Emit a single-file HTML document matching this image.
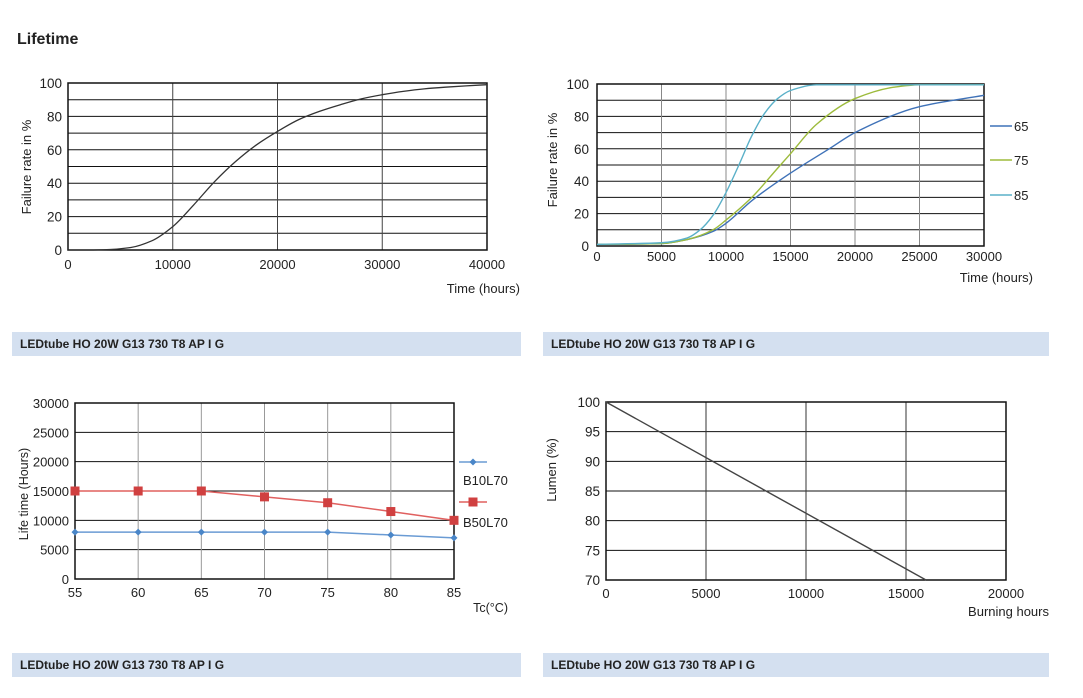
<!DOCTYPE html>
<html><head><meta charset="utf-8"><style>
body{margin:0;background:#fff;width:1083px;height:693px;overflow:hidden;font-family:"Liberation Sans",sans-serif;}
svg text{font-family:"Liberation Sans",sans-serif;fill:#222;}
</style></head><body>
<svg id="s" width="1083" height="693">
<text x="17" y="44" font-size="16" font-weight="bold">Lifetime</text>
<rect x="12" y="332" width="509" height="24" fill="#d4e0f0"/>
<text x="20" y="348" font-size="12" font-weight="bold">LEDtube HO 20W G13 730 T8 AP I G</text>
<rect x="543" y="332" width="506" height="24" fill="#d4e0f0"/>
<text x="551" y="348" font-size="12" font-weight="bold">LEDtube HO 20W G13 730 T8 AP I G</text>
<rect x="12" y="653" width="509" height="24" fill="#d4e0f0"/>
<text x="20" y="669" font-size="12" font-weight="bold">LEDtube HO 20W G13 730 T8 AP I G</text>
<rect x="543" y="653" width="506" height="24" fill="#d4e0f0"/>
<text x="551" y="669" font-size="12" font-weight="bold">LEDtube HO 20W G13 730 T8 AP I G</text>
</svg>
<script>
// Chart 1 data
const c1Hours=[0,2000,4000,6000,8000,10000,12000,14000,16000,18000,20000,22000,24000,26000,28000,30000,32000,34000,36000,38000,40000];
const c1Fail=[0,0,0.3,1.5,5.5,14,27,41,53,63,71,78,83,87,90.5,93,95,96.5,97.5,98.3,99];
// Chart 2 data
const c2Hours65=[0,5000,7000,9000,10000,12000,15000,18000,20000,25000,30000];
const c2Fail65=[1,1.5,4,9,14,28,45,60,70,86,93];
const c2Hours75=[0,5000,7000,9000,10000,12000,14000,15000,17000,20000,23000,25000,30000];
const c2Fail75=[1,1.5,4,10,16,30,48,57,75,91,98,99.5,99.5];
const c2Hours85=[0,5000,7000,8000,9000,10000,11000,12000,13000,14000,15000,17000,30000];
const c2Fail85=[1,2,5,10,19,33,50,68,82,91,96,99.5,99.5];
const c2Labels=['65','75','85'];
// Chart 3 data
const c3Temps=[55,60,65,70,75,80,85];
const c3B10=[8000,8000,8000,8000,8000,7500,7000];
const c3B50=[15000,15000,15000,14000,13000,11500,10000];
// Chart 4 data
const c4Hours=[0,16000];
const c4Lumen=[100,70];

const NS='http://www.w3.org/2000/svg';
const svg=document.getElementById('s');
function mk(tag,attrs,parent){const e=document.createElementNS(NS,tag);for(const k in attrs)e.setAttribute(k,attrs[k]);(parent||svg).appendChild(e);return e;}
function txt(x,y,s,attrs){const e=mk('text',Object.assign({x:x,y:y,'font-size':12.5},attrs||{}));e.textContent=s;return e;}
function scale(d0,d1,r0,r1){return v=>r0+(v-d0)/(d1-d0)*(r1-r0);}
// monotone cubic (Fritsch-Carlson) path in screen space
function smooth(pts){const n=pts.length;const dx=[],sl=[];for(let i=0;i<n-1;i++){dx.push(pts[i+1][0]-pts[i][0]);sl.push((pts[i+1][1]-pts[i][1])/dx[i]);}
const m=[sl[0]];for(let i=1;i<n-1;i++){if(sl[i-1]*sl[i]<=0)m.push(0);else m.push(3*(dx[i-1]+dx[i])/((2*dx[i]+dx[i-1])/sl[i-1]+(dx[i]+2*dx[i-1])/sl[i]));}m.push(sl[n-2]);
let d='M'+pts[0][0]+','+pts[0][1];for(let i=0;i<n-1;i++){const h=dx[i]/3;d+=' C'+(pts[i][0]+h)+','+(pts[i][1]+m[i]*h)+' '+(pts[i+1][0]-h)+','+(pts[i+1][1]-m[i+1]*h)+' '+pts[i+1][0]+','+pts[i+1][1];}return d;}

// ---- Chart 1
{const L=68,R=487,T=83,B=250;const x=scale(0,40000,L,R),y=scale(0,100,B,T);
for(let v=0;v<=100;v+=10){const l=mk('line',{x1:L,x2:R,y1:y(v),y2:y(v),stroke:'#111','stroke-width':1});

}
for(let v=0;v<=40000;v+=10000){const l=mk('line',{x1:x(v),x2:x(v),y1:T,y2:B,stroke:'#444','stroke-width':1});


const t=txt(x(v),B+19,String(v),{'text-anchor':'middle','font-size':13});

}
for(let v=0;v<=100;v+=20){const t=txt(L-6,y(v)+5,String(v),{'text-anchor':'end','font-size':13.5});

}
const fr=mk('rect',{x:L,y:T,width:R-L,height:B-T,fill:'none',stroke:'#111','stroke-width':1.5});


const p=mk('path',{d:smooth(c1Hours.map((h,i)=>[x(h),y(c1Fail[i])])),fill:'none',stroke:'#333','stroke-width':1.3});


const yt=txt(0,0,'Failure rate in %',{transform:'translate(31,167) rotate(-90)','text-anchor':'middle','font-size':13});


const xt=txt(520,293,'Time (hours)',{'text-anchor':'end','font-size':13});

}

// ---- Chart 2
{const L=597,R=984,T=84,B=246;const x=scale(0,30000,L,R),y=scale(0,100,B,T);
for(let v=0;v<=100;v+=10){const l=mk('line',{x1:L,x2:R,y1:y(v),y2:y(v),stroke:'#111','stroke-width':1});

}
for(let v=0;v<=30000;v+=5000){const l=mk('line',{x1:x(v),x2:x(v),y1:T,y2:B,stroke:'#888','stroke-width':1});


const t=txt(x(v),B+15,String(v),{'text-anchor':'middle','font-size':13});

}
for(let v=0;v<=100;v+=20){const t=txt(L-8,y(v)+5,String(v),{'text-anchor':'end','font-size':13.5});

}
const fr=mk('rect',{x:L,y:T,width:R-L,height:B-T,fill:'none',stroke:'#111','stroke-width':1.5});


const series=[[c2Hours65,c2Fail65,'#3f72b8'],[c2Hours75,c2Fail75,'#9dbb3c'],[c2Hours85,c2Fail85,'#5ab0c8']];
const ly=[126,160,195];
series.forEach((s,k)=>{const p=mk('path',{d:smooth(s[0].map((h,i)=>[x(h),y(s[1][i])])),fill:'none',stroke:s[2],'stroke-width':1.4});


const l=mk('line',{x1:990,x2:1012,y1:ly[k],y2:ly[k],stroke:s[2],'stroke-width':1.4});


const t=txt(1014,ly[k]+5,c2Labels[k],{'font-size':13});

});
const yt=txt(0,0,'Failure rate in %',{transform:'translate(557,160) rotate(-90)','text-anchor':'middle','font-size':13});


const xt=txt(1033,282,'Time (hours)',{'text-anchor':'end','font-size':13});

}

// ---- Chart 3
{const L=75,R=454,T=403,B=579;const x=scale(55,85,L,R),y=scale(0,30000,B,T);
for(let v=0;v<=30000;v+=5000){const l=mk('line',{x1:L,x2:R,y1:y(v),y2:y(v),stroke:'#111','stroke-width':1});


const t=txt(L-6,y(v)+5,String(v),{'text-anchor':'end','font-size':13});

}
c3Temps.forEach(v=>{const l=mk('line',{x1:x(v),x2:x(v),y1:T,y2:B,stroke:'#999','stroke-width':1});


const t=txt(x(v),B+18,String(v),{'text-anchor':'middle','font-size':13});

});
const fr=mk('rect',{x:L,y:T,width:R-L,height:B-T,fill:'none',stroke:'#111','stroke-width':1.5});


const pb=mk('polyline',{points:c3Temps.map((t,i)=>x(t)+','+y(c3B10[i])).join(' '),fill:'none',stroke:'#6a9bd4','stroke-width':1.5});


c3Temps.forEach((t,i)=>{const cx=x(t),cy=y(c3B10[i]);const m=mk('path',{d:`M${cx},${cy-3.5} L${cx+3.5},${cy} L${cx},${cy+3.5} L${cx-3.5},${cy}Z`,fill:'#4a86c8'});

});
const pr=mk('polyline',{points:c3Temps.map((t,i)=>x(t)+','+y(c3B50[i])).join(' '),fill:'none',stroke:'#e0605f','stroke-width':1.5});


c3Temps.forEach((t,i)=>{const m=mk('rect',{x:x(t)-4.5,y:y(c3B50[i])-4.5,width:9,height:9,fill:'#d04040'});

});
const l1=mk('line',{x1:459,x2:487,y1:462,y2:462,stroke:'#6a9bd4','stroke-width':1.5});


const d1=mk('path',{d:'M473,458.5 L476.5,462 L473,465.5 L469.5,462Z',fill:'#4a86c8'});


const t1=txt(463,485,'B10L70',{'font-size':13});


const l2=mk('line',{x1:459,x2:487,y1:502,y2:502,stroke:'#e0605f','stroke-width':1.5});


const r2=mk('rect',{x:468.5,y:497.5,width:9,height:9,fill:'#d04040'});


const t2=txt(463,527,'B50L70',{'font-size':13});


const yt=txt(0,0,'Life time (Hours)',{transform:'translate(28,494) rotate(-90)','text-anchor':'middle','font-size':12.5});


const xt=txt(508,612,'Tc(°C)',{'text-anchor':'end','font-size':12.5});

}

// ---- Chart 4
{const L=606,R=1006,T=402,B=580;const x=scale(0,20000,L,R),y=scale(70,100,B,T);
for(let v=70;v<=100;v+=5){const l=mk('line',{x1:L,x2:R,y1:y(v),y2:y(v),stroke:'#111','stroke-width':1});


const t=txt(L-6,y(v)+5,String(v),{'text-anchor':'end','font-size':13.5});

}
for(let v=0;v<=20000;v+=5000){const l=mk('line',{x1:x(v),x2:x(v),y1:T,y2:B,stroke:'#333','stroke-width':1});


const t=txt(x(v),B+18,String(v),{'text-anchor':'middle','font-size':13});

}
const fr=mk('rect',{x:L,y:T,width:R-L,height:B-T,fill:'none',stroke:'#111','stroke-width':1.5});


const p=mk('polyline',{points:c4Hours.map((h,i)=>x(h)+','+y(c4Lumen[i])).join(' '),fill:'none',stroke:'#444','stroke-width':1.4});


const yt=txt(0,0,'Lumen (%)',{transform:'translate(556,470) rotate(-90)','text-anchor':'middle','font-size':13});


const xt=txt(1049,616,'Burning hours',{'text-anchor':'end','font-size':13});

}
</script>
</body></html>
